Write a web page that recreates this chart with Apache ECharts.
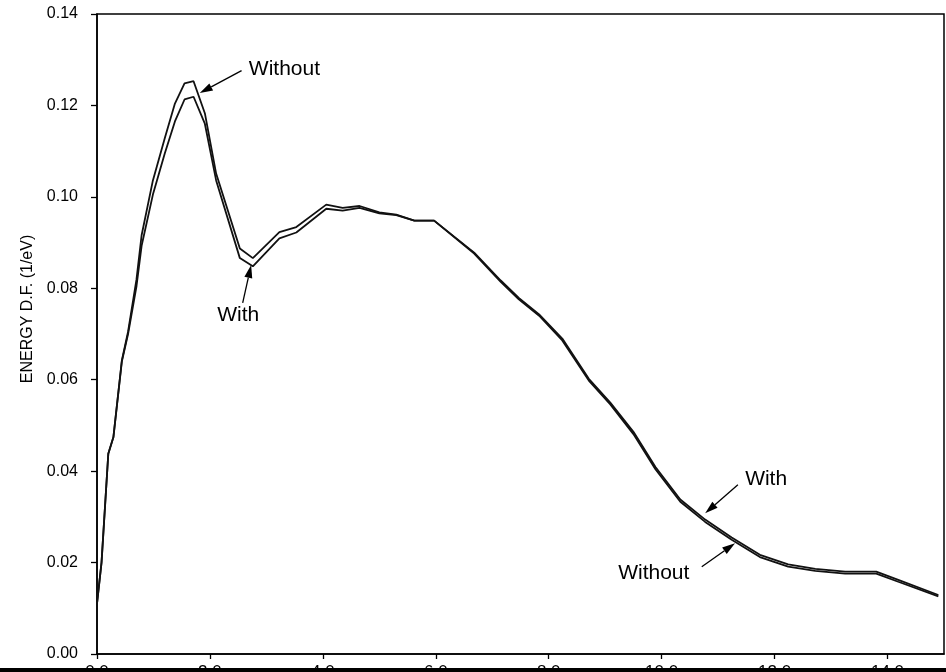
<!DOCTYPE html>
<html>
<head>
<meta charset="utf-8">
<script src="https://cdn.jsdelivr.net/npm/echarts@6/dist/echarts.min.js"></script>
<style>
  html, body { margin: 0; padding: 0; background: #fff; }
  #chart { width: 946px; height: 672px; }
</style>
</head>
<body>
<div id="chart"></div>
<script>
// Energy grid (eV)
const energy = [0.0, 0.08, 0.2, 0.29, 0.44, 0.55, 0.7, 0.79, 0.99, 1.2, 1.38, 1.55, 1.71, 1.91, 2.11,
  2.53, 2.76, 3.23, 3.53, 4.06, 4.35, 4.65, 5.0, 5.3, 5.62, 5.97, 6.68, 7.15, 7.47, 7.83, 8.24,
  8.71, 9.09, 9.5, 9.89, 10.33, 10.77, 11.24, 11.74, 12.24, 12.72, 13.25, 13.8, 14.19, 14.9];

// Energy distribution function without the correction (1/eV)
const withoutDF = [0.011, 0.020, 0.0438, 0.0474, 0.0642, 0.0705, 0.0820, 0.0916, 0.1036, 0.1128, 0.1204, 0.1248, 0.1253, 0.1183, 0.1051,
  0.0887, 0.0866, 0.0923, 0.0934, 0.0983, 0.0976, 0.0980, 0.0966, 0.0961, 0.0948, 0.0948, 0.0876, 0.0814, 0.0776, 0.0740, 0.0686,
  0.0598, 0.0546, 0.0481, 0.0404, 0.0333, 0.0289, 0.0250, 0.0212, 0.0191, 0.0182, 0.0176, 0.0176, 0.0158, 0.0126];

// Energy distribution function with the correction (1/eV)
const withDF = [0.011, 0.020, 0.0438, 0.0474, 0.0640, 0.0700, 0.0805, 0.0893, 0.1005, 0.1095, 0.1165, 0.1213, 0.1219, 0.1160, 0.1036,
  0.0866, 0.0848, 0.0909, 0.0922, 0.0974, 0.0970, 0.0976, 0.0964, 0.0960, 0.0948, 0.0948, 0.0878, 0.0817, 0.0779, 0.0743, 0.0690,
  0.0602, 0.0550, 0.0486, 0.0409, 0.0338, 0.0294, 0.0255, 0.0217, 0.0196, 0.0186, 0.0180, 0.0180, 0.0162, 0.0129];

const yAxisTitle = 'ENERGY D.F. (1/eV)';

// Callouts: label centre, arrow tail and arrow tip, all in data units
const noteText = ['Without', 'With', 'With', 'Without'];
const noteAt   = [[3.32, 0.128], [2.50, 0.0742], [11.85, 0.0383], [9.86, 0.0177]];
const noteTail = [[2.56, 0.1276], [2.58, 0.0768], [11.35, 0.0370], [10.71, 0.0191]];
const noteTip  = [[1.82, 0.1227], [2.73, 0.0851], [10.77, 0.0308], [11.30, 0.0242]];

const FONT = '"Liberation Sans", Arial, Helvetica, sans-serif';
const INK = '#111';

const chart = echarts.init(document.getElementById('chart'), null, { renderer: 'canvas' });

const pairs = (ys) => energy.map((x, i) => [x, ys[i]]);

chart.setOption({
  animation: false,
  backgroundColor: '#fff',
  grid: {
    left: 97, right: 2, top: 14, bottom: 18,
    outerBoundsMode: 'none', containLabel: false,
    show: true, borderColor: '#000', borderWidth: 1.5, backgroundColor: 'transparent'
  },
  xAxis: {
    type: 'value', min: 0, max: 15, interval: 2,
    axisLine: { lineStyle: { color: '#000', width: 1.5 } },
    axisTick: { inside: false, length: 5, lineStyle: { color: '#000', width: 1.3 } },
    axisLabel: {
      formatter: (v) => v.toFixed(1), margin: 10, fontSize: 17,
      fontFamily: FONT, color: '#000', showMaxLabel: false
    },
    splitLine: { show: false }
  },
  yAxis: {
    type: 'value', min: 0, max: 0.14, interval: 0.02,
    name: yAxisTitle, nameLocation: 'middle', nameRotate: 90, nameGap: 53,
    nameTextStyle: { fontSize: 16, fontFamily: FONT, color: '#000', padding: [0, 0, 0, 50] },
    axisLine: { lineStyle: { color: '#000', width: 1.5 } },
    axisTick: { inside: false, length: 6, lineStyle: { color: '#000', width: 1.3 } },
    axisLabel: {
      formatter: (v) => v.toFixed(2), margin: 19, fontSize: 16,
      fontFamily: FONT, color: '#000'
    },
    splitLine: { show: false }
  },
  series: [
    {
      name: 'Without', type: 'line', data: pairs(withoutDF),
      showSymbol: false, symbol: 'none',
      lineStyle: { color: INK, width: 1.8 }
    },
    {
      name: 'With', type: 'line', data: pairs(withDF),
      showSymbol: false, symbol: 'none',
      lineStyle: { color: INK, width: 1.8 }
    }
  ]
});

// Callout labels and arrows, placed through the chart's own coordinate system
const graphics = [];
noteText.forEach((t, i) => {
  const p = chart.convertToPixel({ gridIndex: 0 }, noteAt[i]);
  const a = chart.convertToPixel({ gridIndex: 0 }, noteTail[i]);
  const b = chart.convertToPixel({ gridIndex: 0 }, noteTip[i]);
  const dx = b[0] - a[0], dy = b[1] - a[1];
  const len = Math.hypot(dx, dy);
  const ux = dx / len, uy = dy / len;
  const nx = -uy, ny = ux;
  const headL = 13, headW = 4;
  const bx = b[0] - ux * headL, by = b[1] - uy * headL;
  graphics.push({
    type: 'text', z: 10,
    style: {
      text: t, x: p[0], y: p[1], fill: '#000',
      font: '21px ' + FONT, align: 'center', verticalAlign: 'middle'
    }
  });
  graphics.push({
    type: 'line', z: 10,
    shape: { x1: a[0], y1: a[1], x2: bx, y2: by },
    style: { stroke: '#000', lineWidth: 1.3 }
  });
  graphics.push({
    type: 'polygon', z: 10,
    shape: { points: [[b[0], b[1]], [bx + nx * headW, by + ny * headW], [bx - nx * headW, by - ny * headW]] },
    style: { fill: '#000' }
  });
});
// Dark strip along the lower edge of the sheet
graphics.push({
  type: 'rect', z: 20,
  shape: { x: 0, y: 668, width: 946, height: 4 },
  style: { fill: '#000' }
});
chart.setOption({ graphic: graphics });
</script>
</body>
</html>
